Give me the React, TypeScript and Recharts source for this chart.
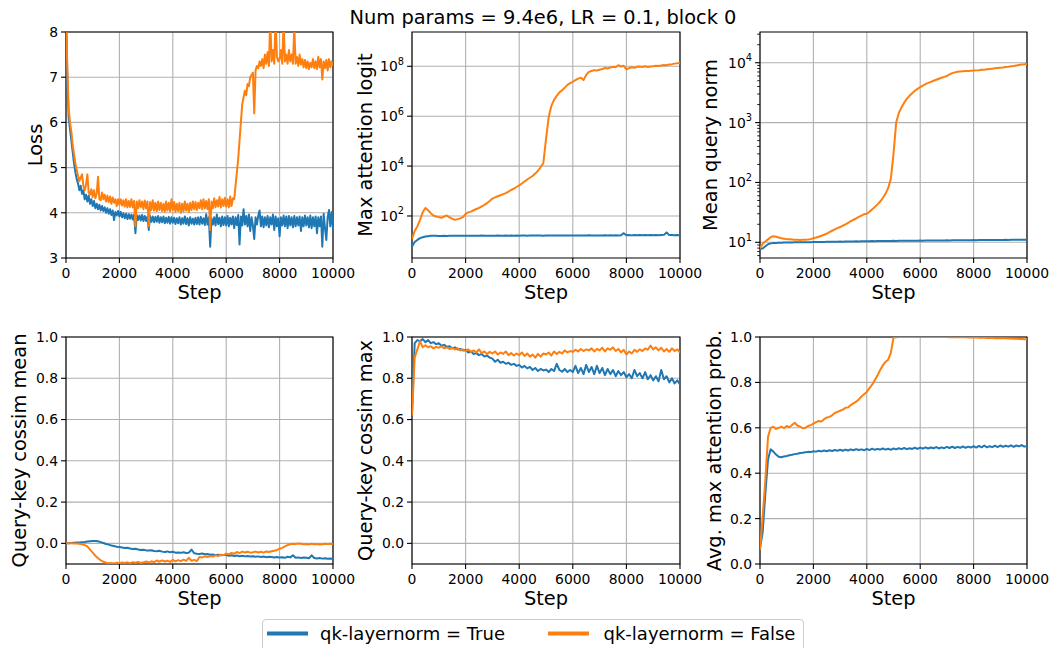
import React from 'react';
import { LineChart, Line, XAxis, YAxis, CartesianGrid, ReferenceArea } from 'recharts';

// ---------- data ----------
const steps = [
  0, 100, 200, 300, 400, 500, 600, 700, 800, 900,
  1000, 1100, 1200, 1300, 1400, 1500, 1600, 1700, 1800, 1900,
  2000, 2100, 2200, 2300, 2400, 2500, 2600, 2700, 2800, 2900,
  3000, 3100, 3200, 3300, 3400, 3500, 3600, 3700, 3800, 3900,
  4000, 4100, 4200, 4300, 4400, 4500, 4600, 4700, 4800, 4900,
  5000, 5100, 5200, 5300, 5400, 5500, 5600, 5700, 5800, 5900,
  6000, 6100, 6200, 6300, 6400, 6500, 6600, 6700, 6800, 6900,
  7000, 7100, 7200, 7300, 7400, 7500, 7600, 7700, 7800, 7900,
  8000, 8100, 8200, 8300, 8400, 8500, 8600, 8700, 8800, 8900,
  9000, 9100, 9200, 9300, 9400, 9500, 9600, 9700, 9800, 9900,
  10000,
];

const lossSteps = [
  0, 50, 100, 150, 200, 250, 300, 350, 400, 450,
  500, 550, 600, 650, 700, 750, 800, 850, 900, 950,
  1000, 1050, 1100, 1150, 1200, 1250, 1300, 1350, 1400, 1450,
  1500, 1550, 1600, 1650, 1700, 1750, 1800, 1850, 1900, 1950,
  2000, 2050, 2100, 2150, 2200, 2250, 2300, 2350, 2400, 2450,
  2500, 2550, 2600, 2650, 2700, 2750, 2800, 2850, 2900, 2950,
  3000, 3050, 3100, 3150, 3200, 3250, 3300, 3350, 3400, 3450,
  3500, 3550, 3600, 3650, 3700, 3750, 3800, 3850, 3900, 3950,
  4000, 4050, 4100, 4150, 4200, 4250, 4300, 4350, 4400, 4450,
  4500, 4550, 4600, 4650, 4700, 4750, 4800, 4850, 4900, 4950,
  5000, 5050, 5100, 5150, 5200, 5250, 5300, 5350, 5400, 5450,
  5500, 5550, 5600, 5650, 5700, 5750, 5800, 5850, 5900, 5950,
  6000, 6050, 6100, 6150, 6200, 6250, 6300, 6350, 6400, 6450,
  6500, 6550, 6600, 6650, 6700, 6750, 6800, 6850, 6900, 6950,
  7000, 7050, 7100, 7150, 7200, 7250, 7300, 7350, 7400, 7450,
  7500, 7550, 7600, 7650, 7700, 7750, 7800, 7850, 7900, 7950,
  8000, 8050, 8100, 8150, 8200, 8250, 8300, 8350, 8400, 8450,
  8500, 8550, 8600, 8650, 8700, 8750, 8800, 8850, 8900, 8950,
  9000, 9050, 9100, 9150, 9200, 9250, 9300, 9350, 9400, 9450,
  9500, 9550, 9600, 9650, 9700, 9750, 9800, 9850, 9900, 9950,
  10000,
];

const lossTrue = [
  8.6, 7.0, 6.1, 5.85, 5.6, 5.35, 5.1, 4.9, 4.75, 4.65,
  4.5, 4.6, 4.42, 4.5, 4.3, 4.4, 4.25, 4.38, 4.2, 4.3,
  4.15, 4.26, 4.1, 4.2, 4.08, 4.18, 4.05, 4.15, 4.04, 4.12,
  4.0, 4.1, 3.98, 4.08, 3.95, 4.05, 3.84, 4.02, 3.94, 4.04,
  3.92, 4.02, 3.9, 3.99, 3.88, 3.98, 3.86, 3.97, 3.87, 3.96,
  3.85, 3.96, 3.55, 3.95, 3.84, 3.94, 3.83, 3.95, 3.82, 3.93,
  3.82, 3.92, 3.62, 3.93, 3.8, 3.92, 3.79, 3.91, 3.8, 3.93,
  3.78, 3.9, 3.79, 3.92, 3.77, 3.89, 3.78, 3.91, 3.76, 3.9,
  3.78, 3.89, 3.75, 3.88, 3.77, 3.9, 3.74, 3.88, 3.76, 3.92,
  3.75, 3.88, 3.72, 3.9, 3.76, 3.87, 3.74, 3.89, 3.75, 3.9,
  3.74, 3.91, 3.76, 3.88, 3.73, 3.97, 3.74, 3.9, 3.25, 3.88,
  3.74, 3.9, 3.72, 3.96, 3.75, 3.89, 3.7, 3.92, 3.73, 3.9,
  3.72, 3.93, 3.7, 3.89, 3.74, 3.92, 3.66, 3.9, 3.73, 3.95,
  3.3, 3.92, 3.72, 4.08, 3.74, 3.93, 3.7, 3.96, 3.6, 3.9,
  3.72, 3.42, 3.9, 3.74, 3.93, 4.05, 3.7, 3.92, 3.68, 3.9,
  3.72, 3.93, 3.68, 3.9, 3.74, 3.96, 3.62, 3.92, 3.7, 3.88,
  3.48, 3.9, 3.72, 3.94, 3.7, 3.92, 3.66, 3.93, 3.72, 3.9,
  3.68, 3.93, 3.7, 3.9, 3.72, 3.92, 3.6, 3.9, 3.7, 3.94,
  3.72, 3.9, 3.68, 3.94, 3.66, 3.9, 3.7, 3.92, 3.55, 3.9,
  3.7, 3.92, 3.25, 3.98, 3.66, 3.4, 3.9, 4.06, 3.7, 4.02,
  3.65,
];
const lossFalse = [
  8.6, 7.2, 6.3, 6.0, 5.8, 5.5, 5.3, 5.1, 4.95, 4.82,
  4.7, 4.78, 4.85, 4.6, 4.5, 4.62, 4.85, 4.45, 4.4, 4.52,
  4.35, 4.5, 4.32, 4.42, 4.8, 4.3, 4.28, 4.45, 4.3, 4.4,
  4.25, 4.38, 4.24, 4.36, 4.2, 4.34, 4.22, 4.3, 4.15, 4.3,
  4.18, 4.3, 4.16, 4.28, 4.14, 4.3, 4.12, 4.26, 4.13, 4.3,
  4.12, 4.26, 3.7, 4.25, 4.1, 4.28, 4.12, 4.25, 4.08, 4.27,
  4.1, 4.25, 3.7, 4.24, 4.06, 4.28, 4.05, 4.22, 4.04, 4.25,
  4.06, 4.22, 4.04, 4.2, 4.02, 4.25, 4.05, 4.22, 4.03, 4.3,
  4.06, 4.24, 4.02, 4.2, 4.04, 4.22, 4.0, 4.2, 4.03, 4.25,
  4.05, 4.2, 4.02, 4.22, 4.06, 4.25, 4.08, 4.24, 4.06, 4.22,
  4.1, 4.28, 4.08, 4.3, 4.1, 4.26, 4.08, 4.3, 3.62, 4.25,
  4.1, 4.32, 4.12, 4.28, 4.14, 4.35, 4.12, 4.3, 4.15, 4.33,
  4.14, 4.3, 4.12, 4.36, 4.15, 4.32, 4.3, 4.6, 4.9, 5.2,
  5.6, 6.0, 6.4, 6.55, 6.7, 6.6, 6.85, 6.8, 7.0, 7.05,
  7.1, 6.2, 7.15, 7.25, 7.2, 7.35, 7.25, 7.4, 7.2, 7.5,
  7.3, 7.55, 7.25, 8.3, 7.35, 7.6, 7.3, 8.3, 7.45, 7.35,
  7.4, 7.6, 7.3, 8.2, 7.35, 7.5, 7.3, 7.6, 7.35, 7.5,
  7.3, 8.1, 7.3, 7.45, 7.25, 7.5, 7.28, 7.4, 7.22, 7.38,
  7.2, 7.35, 7.18, 7.32, 7.22, 7.4, 7.2, 7.35, 7.18, 7.45,
  7.22, 7.4, 6.95, 7.35, 7.2, 7.38, 7.15, 7.4, 7.22, 7.35,
  7.25,
];

const logitTrue = [
  6, 9, 11, 13, 14, 15, 15.5, 16, 16.2, 16.3,
  15.7, 15.8, 16, 15.9, 16.1, 16, 16.2, 16.1, 16, 16.2,
  16.1, 16.3, 16.2, 16.1, 16.3, 16.2, 16.4, 16.2, 16.3, 16.1,
  16.3, 16.2, 16.4, 16.3, 16.2, 16.4, 16.3, 16.5, 16.3, 16.4,
  16.3, 16.5, 16.4, 16.3, 16.5, 16.4, 16.6, 16.4, 16.5, 16.3,
  16.5, 16.4, 16.6, 16.5, 16.4, 16.6, 16.5, 16.7, 16.5, 16.6,
  16.5, 16.7, 16.6, 16.5, 16.7, 16.6, 16.8, 16.6, 16.7, 16.5,
  16.7, 16.6, 16.8, 16.7, 16.9, 16.6, 16.8, 16.7, 16.9, 20.5,
  16.8, 17.2, 16.7, 17.4, 16.9, 17.1, 16.8, 17.3, 16.9, 17.2,
  17, 17.4, 16.9, 17.2, 17.5, 22, 17.1, 17.3, 16.9, 17.2,
  17,
];
const logitFalse = [
  12, 25, 38, 70, 140, 210, 170, 130, 105, 95,
  90, 85, 95, 105, 88, 78, 70, 75, 80, 90,
  120, 140, 150, 170, 190, 210, 240, 280, 330, 400,
  500, 560, 620, 680, 750, 830, 950, 1100, 1250, 1450,
  1700, 2000, 2400, 2900, 3400, 4000, 5000, 6500, 9000, 13000,
  1.2e5, 9e5, 2.6e6, 4.5e6, 6.5e6, 9e6, 1.1e7, 1.4e7, 1.8e7, 2.1e7,
  2.4e7, 2.8e7, 3.2e7, 3.5e7, 2.8e7, 4.5e7, 6e7, 6.5e7, 7e7, 6.8e7,
  7.3e7, 7.8e7, 8.5e7, 8.2e7, 9e7, 9.5e7, 9.2e7, 1.1e8, 9.8e7, 1.05e8,
  7.5e7, 8.5e7, 9.2e7, 8.8e7, 9.5e7, 9.8e7, 9.3e7, 1.0e8, 9.3e7, 9.8e7,
  1.0e8, 1.05e8, 1.02e8, 1.08e8, 1.12e8, 1.1e8, 1.18e8, 1.22e8, 1.28e8, 1.32e8,
  1.38e8,
];

const qnormTrue = [
  7.8, 7.9, 8.6, 9.3, 9.6, 9.7, 9.75, 9.8, 9.85, 9.9,
  9.9, 9.95, 9.95, 10, 9.98, 10, 10.02, 10.05, 10.03, 10.06,
  10.1, 10.08, 10.12, 10.15, 10.12, 10.18, 10.2, 10.18, 10.22, 10.25,
  10.28, 10.25, 10.3, 10.32, 10.3, 10.35, 10.38, 10.36, 10.4, 10.42,
  10.45, 10.43, 10.48, 10.46, 10.5, 10.52, 10.5, 10.55, 10.53, 10.56,
  10.58, 10.55, 10.6, 10.58, 10.62, 10.6, 10.63, 10.65, 10.62, 10.66,
  10.68, 10.65, 10.7, 10.68, 10.72, 10.7, 10.73, 10.75, 10.72, 10.76,
  10.78, 10.75, 10.8, 10.78, 10.82, 10.8, 10.83, 10.85, 10.82, 10.86,
  10.88, 10.85, 10.9, 10.88, 10.92, 10.9, 10.93, 10.95, 10.92, 10.96,
  10.98, 10.95, 11, 10.98, 11.02, 11, 11.03, 11.05, 11.02, 11.06,
  11.08,
];
const qnormFalse = [
  8, 9.5, 10.3, 11.2, 12.2, 12.6, 12.4, 12, 11.7, 11.5,
  11.3, 11.2, 11.1, 11, 11, 10.95, 11, 11.05, 11.1, 11.3,
  11.7, 12, 12.4, 12.9, 13.4, 14, 14.8, 15.6, 16.4, 17.2,
  18, 19, 20, 21.2, 22.5, 23.8, 25, 26.5, 28, 29.5,
  30, 32.5, 35.5, 39, 43, 48, 55, 65, 80, 115,
  300, 1000, 1450, 1800, 2150, 2500, 2800, 3100, 3400, 3650,
  3900, 4150, 4400, 4600, 4800, 5000, 5200, 5400, 5600, 5800,
  6000, 6400, 6700, 6900, 7050, 7150, 7200, 7250, 7300, 7350,
  7400, 7450, 7500, 7600, 7650, 7750, 7850, 7950, 8050, 8150,
  8250, 8350, 8500, 8600, 8750, 8850, 9000, 9150, 9300, 9400,
  9550,
];

const cosMeanTrue = [
  0, 0.001, 0.002, 0.003, 0.004, 0.004, 0.006, 0.007, 0.009, 0.01,
  0.011, 0.012, 0.01, 0.006, 0.002, -0.003, -0.006, -0.01, -0.013, -0.016,
  -0.018, -0.02, -0.022, -0.021, -0.025, -0.027, -0.026, -0.03, -0.032, -0.031,
  -0.034, -0.035, -0.033, -0.037, -0.038, -0.036, -0.04, -0.042, -0.039, -0.043,
  -0.041, -0.045, -0.044, -0.046, -0.043, -0.047, -0.045, -0.03, -0.048, -0.05,
  -0.051, -0.049, -0.053, -0.052, -0.055, -0.054, -0.057, -0.055, -0.058, -0.056,
  -0.057, -0.06, -0.058, -0.061, -0.059, -0.062, -0.06, -0.063, -0.061, -0.064,
  -0.062, -0.065, -0.063, -0.066, -0.064, -0.067, -0.065, -0.066, -0.068, -0.066,
  -0.069, -0.067, -0.07, -0.065, -0.068, -0.058, -0.07, -0.068, -0.071, -0.069,
  -0.07, -0.072, -0.058, -0.071, -0.073, -0.071, -0.074, -0.072, -0.075, -0.073,
  -0.076,
];
const cosMeanFalse = [
  0, 0, 0, -0.001, -0.001, -0.002, -0.004, -0.008, -0.015, -0.03,
  -0.045, -0.06, -0.072, -0.082, -0.089, -0.094, -0.096, -0.095, -0.097, -0.094,
  -0.096, -0.093, -0.095, -0.092, -0.096, -0.091, -0.094, -0.09, -0.095, -0.092,
  -0.088, -0.093, -0.087, -0.091, -0.083, -0.089, -0.082, -0.088, -0.084, -0.09,
  -0.08, -0.087, -0.081, -0.086, -0.079, -0.085, -0.07, -0.084, -0.08, -0.086,
  -0.066, -0.068, -0.063, -0.066, -0.061, -0.064, -0.058, -0.062, -0.055, -0.057,
  -0.05, -0.053, -0.046, -0.05, -0.042, -0.047, -0.04, -0.044, -0.041, -0.045,
  -0.043, -0.04, -0.044, -0.041, -0.045, -0.039, -0.042, -0.038, -0.036, -0.032,
  -0.026, -0.022, -0.015, -0.008, -0.004, -0.002, -0.003, -0.001, -0.002, -0.004,
  -0.003, -0.005, -0.002, -0.004, -0.003, -0.005, -0.004, -0.002, -0.003, -0.002,
  -0.003,
];

const cosMaxTrue = [
  0.63, 0.97, 0.985, 0.98, 0.99, 0.975, 0.985, 0.97, 0.975, 0.965,
  0.97, 0.958, 0.962, 0.952, 0.955, 0.945, 0.95, 0.94, 0.942, 0.935,
  0.938, 0.925, 0.93, 0.918, 0.922, 0.912, 0.918, 0.905, 0.91, 0.9,
  0.895, 0.88, 0.89, 0.875, 0.88, 0.87, 0.875, 0.865, 0.87, 0.86,
  0.865, 0.852, 0.86, 0.848, 0.855, 0.84, 0.85, 0.835, 0.845, 0.838,
  0.842, 0.83, 0.845, 0.835, 0.87, 0.84, 0.832, 0.845, 0.83, 0.84,
  0.83, 0.86, 0.825, 0.85, 0.82, 0.865, 0.83, 0.855, 0.82, 0.86,
  0.825, 0.85, 0.815, 0.845, 0.82, 0.84, 0.81, 0.835, 0.815, 0.83,
  0.805, 0.82, 0.8, 0.84, 0.81, 0.825, 0.8, 0.83, 0.795, 0.815,
  0.79, 0.81, 0.785, 0.84, 0.795, 0.81, 0.78, 0.8, 0.775, 0.79,
  0.77,
];
const cosMaxFalse = [
  0.62, 0.9, 0.94, 0.98, 0.95, 0.96, 0.95, 0.955, 0.945, 0.952,
  0.948, 0.955, 0.945, 0.95, 0.942, 0.948, 0.94, 0.945, 0.935, 0.94,
  0.932, 0.94, 0.928, 0.935, 0.925, 0.94, 0.922, 0.93, 0.918, 0.928,
  0.92, 0.93, 0.915, 0.925, 0.918, 0.93, 0.912, 0.922, 0.91, 0.92,
  0.912, 0.925, 0.908, 0.92, 0.905, 0.915, 0.9, 0.918, 0.905, 0.92,
  0.915, 0.925, 0.91, 0.93, 0.918, 0.928, 0.92, 0.935, 0.925, 0.932,
  0.928, 0.938, 0.93, 0.942, 0.932, 0.94, 0.935, 0.945, 0.93, 0.942,
  0.935, 0.948, 0.93, 0.945, 0.938, 0.95, 0.932, 0.942, 0.925, 0.938,
  0.915, 0.93, 0.92, 0.938, 0.928, 0.94, 0.932, 0.945, 0.938, 0.958,
  0.94, 0.95, 0.935, 0.948, 0.93, 0.942, 0.928, 0.945, 0.932, 0.94,
  0.925,
];

const attnTrue = [
  0.07, 0.14, 0.31, 0.46, 0.505, 0.495, 0.482, 0.472, 0.47, 0.474,
  0.476, 0.479, 0.481, 0.484, 0.486, 0.489, 0.49, 0.492, 0.494, 0.493,
  0.497, 0.495, 0.499, 0.496, 0.5, 0.497, 0.501, 0.498, 0.502, 0.499,
  0.503, 0.499, 0.504, 0.5, 0.505, 0.501, 0.506, 0.502, 0.505, 0.501,
  0.507, 0.502, 0.508, 0.503, 0.507, 0.504, 0.509, 0.504, 0.508, 0.503,
  0.509, 0.505, 0.51, 0.506, 0.511, 0.506, 0.51, 0.507, 0.512, 0.507,
  0.513, 0.508, 0.514, 0.509, 0.513, 0.51, 0.515, 0.509, 0.514, 0.51,
  0.516, 0.511, 0.517, 0.511, 0.516, 0.512, 0.518, 0.512, 0.517, 0.513,
  0.519, 0.513, 0.52, 0.514, 0.522, 0.514, 0.519, 0.515, 0.521, 0.515,
  0.522, 0.516, 0.521, 0.517, 0.523, 0.516, 0.522, 0.518, 0.524, 0.517,
  0.52,
];
const attnFalse = [
  0.063, 0.21, 0.37, 0.56, 0.6, 0.605, 0.595, 0.6, 0.605, 0.598,
  0.608, 0.602, 0.612, 0.622, 0.61, 0.605, 0.598, 0.6, 0.608, 0.612,
  0.618, 0.625, 0.63, 0.628, 0.638, 0.645, 0.648, 0.655, 0.665, 0.67,
  0.675, 0.68, 0.688, 0.69, 0.7, 0.708, 0.715, 0.725, 0.738, 0.748,
  0.758, 0.775, 0.79, 0.81, 0.83, 0.855, 0.875, 0.89, 0.9, 0.93,
  0.997, 0.999, 1, 1, 1, 1, 1, 1, 1, 1,
  1, 1, 1, 1, 1, 1, 1, 1, 1, 1,
  1, 0.999, 1, 0.999, 1, 0.999, 0.999, 0.999, 0.998, 0.999,
  0.998, 0.998, 0.997, 0.997, 0.997, 0.996, 0.996, 0.996, 0.995, 0.995,
  0.995, 0.994, 0.994, 0.993, 0.993, 0.992, 0.992, 0.991, 0.991, 0.99,
  0.99,
];

const xTicks = [0, 2000, 4000, 6000, 8000, 10000];
const lossTicks = [3, 4, 5, 6, 7, 8];
const logitTicks = [1e2, 1e4, 1e6, 1e8];
const qnormMajor = [10, 100, 1000, 10000];
const qnormTicks = [
  6, 7, 8, 9, 10, 20, 30, 40, 50, 60, 70, 80, 90, 100,
  200, 300, 400, 500, 600, 700, 800, 900, 1000,
  2000, 3000, 4000, 5000, 6000, 7000, 8000, 9000, 10000, 20000, 30000,
];
const unitTicks = [0, 0.2, 0.4, 0.6, 0.8, 1.0];

const titleText = 'Num params = 9.4e6, LR = 0.1, block 0';
const seriesNames = ['qk-layernorm = True', 'qk-layernorm = False'];

// ---------- style ----------
const BLUE = '#1f77b4';
const ORANGE = '#ff7f0e';
const FONT = '"DejaVu Sans", sans-serif';
const TICK_FS = 13.9;
const LABEL_FS = 19.4;

function LogTick(props: any) {
  const { x, y, payload } = props;
  const v = payload.value as number;
  const e = Math.log10(v);
  const re = Math.round(e);
  const major = Math.abs(e - re) < 1e-6;
  const ax = x + 8;
  return (
    <g>
      <line x1={ax} x2={ax - (major ? 4.9 : 2.8)} y1={y} y2={y} stroke="#000" strokeWidth={major ? 1.1 : 0.85} />
      {major && (
        <text x={x} y={y} dy="0.355em" textAnchor="end" fontSize={TICK_FS} fontFamily={FONT} fill="#000">
          10<tspan fontSize={9.8} dy={-6.5}>{re}</tspan>
        </text>
      )}
    </g>
  );
}

type PanelProps = {
  left: number; top: number; w: number; h: number;
  xs: number[]; t: number[]; f: number[];
  domain: [number, number]; ticks: number[];
  log?: boolean; fmt?: (v: number) => string; grid?: number[];
};

function Panel({ left, top, w, h, xs, t, f, domain, ticks, log, fmt, grid }: PanelProps) {
  const rows = xs.map((s, i) => ({ step: s, t: t[i], f: f[i] }));
  const ML = 60, MT = 10, MR = 32, MB = 30;
  const tickStyle = { fill: '#000', fontSize: TICK_FS, fontFamily: FONT };
  const tl = { stroke: '#000', strokeWidth: 1.1 };
  return (
    <div style={{ position: 'absolute', left: left - ML, top: top - MT }}>
      <LineChart width={ML + w + MR} height={MT + h + MB} data={rows} margin={{ top: MT, right: MR, bottom: 0, left: 0 }}>
        <CartesianGrid stroke="#b0b0b0" strokeWidth={1.1} horizontalValues={grid} />
        <XAxis dataKey="step" type="number" domain={[0, 10000]} ticks={xTicks} interval={0} height={MB}
          tickSize={4.9} tickMargin={4.9} axisLine={false} tickLine={tl} tick={tickStyle} allowDataOverflow />
        {log ? (
          <YAxis type="number" scale="log" domain={domain} ticks={ticks} interval={0} width={ML} allowDataOverflow
            axisLine={false} tickSize={5} tickMargin={3} tickLine={false} tick={<LogTick />}
            tickFormatter={() => ''} />
        ) : (
          <YAxis type="number" domain={domain} ticks={ticks} interval={0} width={ML} allowDataOverflow
            axisLine={false} tickSize={5} tickMargin={3} tickLine={tl} tick={tickStyle} tickFormatter={fmt} />
        )}
        <ReferenceArea x1={0} x2={10000} y1={domain[0]} y2={domain[1]} fill="none" fillOpacity={0}
          stroke="#000" strokeWidth={1.1} ifOverflow="visible" />
        <Line dataKey="t" type="linear" stroke={BLUE} strokeWidth={2} dot={false} activeDot={false}
          strokeLinejoin="round" isAnimationActive={false} />
        <Line dataKey="f" type="linear" stroke={ORANGE} strokeWidth={2} dot={false} activeDot={false}
          strokeLinejoin="round" isAnimationActive={false} />
      </LineChart>
    </div>
  );
}

const colLeft = [66, 412, 760];
const colW = [267, 268, 267];
const rowTop = [32, 337];
const rowH = [226, 227];

const fmt1 = (v: number) => v.toFixed(1);
const fmt0 = (v: number) => String(v);

export default function App() {
  const ylabels = [
    { text: 'Loss', x: 42, row: 0 },
    { text: 'Max attention logit', x: 371.5, row: 0 },
    { text: 'Mean query norm', x: 717, row: 0 },
    { text: 'Query-key cossim mean', x: 25.5, row: 1 },
    { text: 'Query-key cossim max', x: 372, row: 1 },
    { text: 'Avg. max attention prob.', x: 721, row: 1 },
  ];
  return (
    <div style={{ position: 'absolute', left: 0, top: 0, width: 1056, height: 648, overflow: 'hidden', background: '#fff' }}>
      <Panel left={colLeft[0]} top={rowTop[0]} w={colW[0]} h={rowH[0]} xs={lossSteps} t={lossTrue} f={lossFalse}
        domain={[3, 8]} ticks={lossTicks} fmt={fmt0} />
      <Panel left={colLeft[1]} top={rowTop[0]} w={colW[1]} h={rowH[0]} xs={steps} t={logitTrue} f={logitFalse}
        domain={[2.07, 2.37e9]} ticks={logitTicks} log grid={logitTicks} />
      <Panel left={colLeft[2]} top={rowTop[0]} w={colW[2]} h={rowH[0]} xs={steps} t={qnormTrue} f={qnormFalse}
        domain={[5.47, 32600]} ticks={qnormTicks} log grid={qnormMajor} />
      <Panel left={colLeft[0]} top={rowTop[1]} w={colW[0]} h={rowH[1]} xs={steps} t={cosMeanTrue} f={cosMeanFalse}
        domain={[-0.1, 1.0]} ticks={unitTicks} fmt={fmt1} />
      <Panel left={colLeft[1]} top={rowTop[1]} w={colW[1]} h={rowH[1]} xs={steps} t={cosMaxTrue} f={cosMaxFalse}
        domain={[-0.1, 1.0]} ticks={unitTicks} fmt={fmt1} />
      <Panel left={colLeft[2]} top={rowTop[1]} w={colW[2]} h={rowH[1]} xs={steps} t={attnTrue} f={attnFalse}
        domain={[0, 1.0]} ticks={unitTicks} fmt={fmt1} />
      <svg width={1056} height={648} style={{ position: 'absolute', left: 0, top: 0, pointerEvents: 'none' }}
        fontFamily={FONT}>
        <text x={543} y={24} textAnchor="middle" fontSize={LABEL_FS} fill="#000">{titleText}</text>
        {colLeft.map((l, c) => rowTop.map((tp, r) => (
          <text key={`s${c}${r}`} x={l + colW[c] / 2} y={tp + rowH[r] + 40.5} textAnchor="middle"
            fontSize={LABEL_FS} fill="#000">Step</text>
        )))}
        {ylabels.map((yl) => {
          const cy = rowTop[yl.row] + rowH[yl.row] / 2;
          return (
            <text key={yl.text} x={yl.x} y={cy} textAnchor="middle" fontSize={LABEL_FS} fill="#000"
              transform={`rotate(-90, ${yl.x}, ${cy})`}>{yl.text}</text>
          );
        })}
        <rect x={262.5} y={619.5} width={541} height={40} rx={3.5} fill="#fff" fillOpacity={0.8} stroke="#cccccc" />
        <line x1={267} x2={308} y1={633.5} y2={633.5} stroke={BLUE} strokeWidth={4} />
        <text x={320} y={640} fontSize={18} fill="#000">{seriesNames[0]}</text>
        <line x1={548} x2={589} y1={633.5} y2={633.5} stroke={ORANGE} strokeWidth={4} />
        <text x={603.5} y={640} fontSize={18} fill="#000">{seriesNames[1]}</text>
      </svg>
    </div>
  );
}
